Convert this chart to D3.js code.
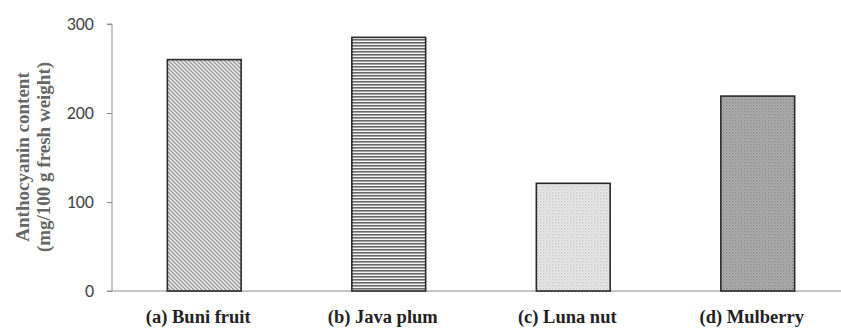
<!DOCTYPE html>
<html>
<head>
<meta charset="utf-8">
<script src="https://cdn.jsdelivr.net/npm/d3@7"></script>
<style>
  body { margin: 0; background: #fff; }
</style>
</head>
<body>
<svg width="841" height="330"></svg>
<script>
// data
const categories = ["(a) Buni fruit", "(b) Java plum", "(c) Luna nut", "(d) Mulberry"];
const anthocyanin = [260, 285, 121, 219];
const yTicks = [0, 100, 200, 300];

const dataset = categories.map((c, i) => ({ name: c, value: anthocyanin[i] }));

const svg = d3.select("svg");
const x0 = 112, x1 = 850, yTop = 24, yBottom = 291;

// patterns for the bars
const defs = svg.append("defs");

// (a) diagonal hatch
let p = defs.append("pattern").attr("id", "pat0").attr("patternUnits", "userSpaceOnUse")
    .attr("width", 4).attr("height", 4);
p.append("rect").attr("width", 4).attr("height", 4).attr("fill", "#e8e8e8");
p.append("path").attr("d", "M-1,-1 L5,5 M-1,3 L1,5 M3,-1 L5,1")
    .attr("stroke", "#909090").attr("stroke-width", 1.2);

// (b) horizontal lines
p = defs.append("pattern").attr("id", "pat1").attr("patternUnits", "userSpaceOnUse")
    .attr("width", 4).attr("height", 3);
p.append("rect").attr("width", 4).attr("height", 3).attr("fill", "#f2f2f2");
p.append("rect").attr("y", 0).attr("width", 4).attr("height", 1.6).attr("fill", "#6a6a6a");

// (c) light dots
p = defs.append("pattern").attr("id", "pat2").attr("patternUnits", "userSpaceOnUse")
    .attr("width", 3).attr("height", 3);
p.append("rect").attr("width", 3).attr("height", 3).attr("fill", "#f0f0f0");
p.append("rect").attr("width", 1.5).attr("height", 1.5).attr("fill", "#c4c4c4");
p.append("rect").attr("x", 1.5).attr("y", 1.5).attr("width", 1.5).attr("height", 1.5).attr("fill", "#d8d8d8");

// (d) darker dots
p = defs.append("pattern").attr("id", "pat3").attr("patternUnits", "userSpaceOnUse")
    .attr("width", 3).attr("height", 3);
p.append("rect").attr("width", 3).attr("height", 3).attr("fill", "#b4b4b4");
p.append("rect").attr("width", 1.5).attr("height", 1.5).attr("fill", "#888");
p.append("rect").attr("x", 1.5).attr("y", 1.5).attr("width", 1.5).attr("height", 1.5).attr("fill", "#9c9c9c");

// scales
const xScale = d3.scaleBand()
    .domain(categories)
    .range([x0, x1])
    .paddingInner(0.6)
    .paddingOuter(0.3);

const yScale = d3.scaleLinear()
    .domain([0, 300])
    .range([yBottom, yTop]);

// y axis
const yAxis = svg.append("g")
    .attr("transform", "translate(" + x0 + ",0)")
    .call(d3.axisLeft(yScale).tickValues(yTicks).tickSize(5).tickPadding(13));
yAxis.select(".domain").attr("stroke", "#8c8c8c").attr("d", "M-5," + yTop + "H0V" + yBottom);
yAxis.selectAll(".tick line").attr("stroke", "#8c8c8c");
yAxis.selectAll(".tick text")
    .style("font-family", "Carlito, 'Open Sans', sans-serif")
    .style("font-size", "18px")
    .attr("fill", "#444");

// x axis baseline
svg.append("line")
    .attr("x1", x0 - 5).attr("x2", 841)
    .attr("y1", yScale(0)).attr("y2", yScale(0))
    .attr("stroke", "#8c8c8c").attr("stroke-width", 1);

// bars
svg.selectAll("rect.bar")
    .data(dataset)
    .enter()
    .append("rect")
    .attr("class", "bar")
    .attr("x", d => xScale(d.name))
    .attr("y", d => yScale(d.value))
    .attr("width", xScale.bandwidth())
    .attr("height", d => yScale(0) - yScale(d.value))
    .attr("fill", (d, i) => "url(#pat" + i + ")")
    .attr("stroke", "#2a2a2a")
    .attr("stroke-width", 1.6);

// category labels
svg.selectAll("text.cat")
    .data(dataset)
    .enter()
    .append("text")
    .attr("class", "cat")
    .attr("x", d => xScale(d.name) + xScale.bandwidth() / 2 - 6)
    .attr("y", 323)
    .attr("text-anchor", "middle")
    .style("font-family", "'Liberation Serif', 'Times New Roman', serif")
    .style("font-weight", "bold")
    .style("font-size", "18.5px")
    .attr("fill", "#222")
    .text(d => d.name);

// y label, two lines
const yl = svg.append("text")
    .attr("transform", "translate(29,157) rotate(-90)")
    .attr("text-anchor", "middle")
    .style("font-family", "'Liberation Serif', 'Times New Roman', serif")
    .style("font-weight", "bold")
    .style("font-size", "19px")
    .attr("fill", "#666");
yl.append("tspan").attr("x", 0).attr("dy", 0).text("Anthocyanin content");
yl.append("tspan").attr("x", 0).attr("dy", 21).text("(mg/100 g fresh weight)");
</script>
</body>
</html>
